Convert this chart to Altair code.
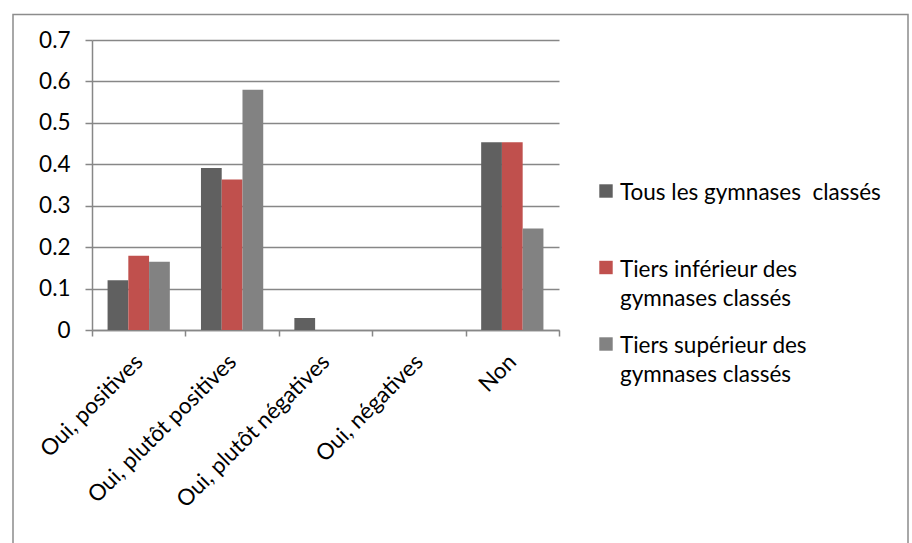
import altair as alt
import pandas as pd

# Survey answers (x categories)
categories = [
    "Oui, positives",
    "Oui, plutôt positives",
    "Oui, plutôt négatives",
    "Oui, négatives",
    "Non",
]

# Series names and shares per answer
series_names = [
    "Tous les gymnases classés",
    "Tiers inférieur des gymnases classés",
    "Tiers supérieur des gymnases classés",
]
legend_lines = [
    "Tous les gymnases\u00a0 classés",
    "Tiers inférieur des\ngymnases classés",
    "Tiers supérieur des\ngymnases classés",
]
tous = [0.120, 0.391, 0.029, 0.0, 0.453]
inferieur = [0.179, 0.363, 0.0, 0.0, 0.453]
superieur = [0.165, 0.580, 0.0, 0.0, 0.245]
colors = ["#606060", "#c0504d", "#828282"]

y_ticks = [0, 0.1, 0.2, 0.3, 0.4, 0.5, 0.6, 0.7]

rows = []
for name, vals in zip(series_names, [tous, inferieur, superieur]):
    for cat, v in zip(categories, vals):
        rows.append({"categorie": cat, "serie": name, "valeur": v})
df = pd.DataFrame(rows)

legend_df = pd.DataFrame(
    {"serie": series_names, "texte": legend_lines, "rang": [0, 1, 2]}
)

FONT = "Lato"
FONT_SIZE = 22.5
GRAY = "#878787"

bars = alt.Chart(df).mark_bar().encode(
    x=alt.X(
        "categorie:N",
        sort=categories,
        title=None,
        scale=alt.Scale(paddingInner=0, paddingOuter=0),
        axis=alt.Axis(
            labelAngle=315,
            labelAlign="right",
            labelBaseline="middle",
            labelPadding=22,
            labelLimit=0,
            tickBand="extent",
            tickSize=6,
            tickColor=GRAY,
            tickWidth=1.5,
            domainColor=GRAY,
            domainWidth=1.5,
            labelFont=FONT,
            labelFontSize=FONT_SIZE,
            labelColor="#000000",
            grid=False,
        ),
    ),
    xOffset=alt.XOffset(
        "serie:N",
        sort=series_names,
        scale=alt.Scale(paddingOuter=0.75, paddingInner=0),
    ),
    y=alt.Y(
        "valeur:Q",
        title=None,
        scale=alt.Scale(domain=[0, 0.7], nice=False),
        axis=alt.Axis(
            values=y_ticks,
            labelExpr="datum.value == 0 ? '0' : format(datum.value, '.1f')",
            tickSize=7,
            tickColor=GRAY,
            tickWidth=1.5,
            domainColor=GRAY,
            domainWidth=1.5,
            gridColor=GRAY,
            gridWidth=1.4,
            labelPadding=15,
            labelFont=FONT,
            labelFontSize=FONT_SIZE,
            labelColor="#000000",
        ),
    ),
    color=alt.Color(
        "serie:N",
        sort=series_names,
        scale=alt.Scale(domain=series_names, range=colors),
        legend=None,
    ),
)

# Outer frame around the whole figure
frame = alt.Chart(pd.DataFrame({"f": [0]})).mark_rect(
    fill=None, stroke="#8c8c8c", strokeWidth=1.5
).encode(
    x=alt.value(-79),
    x2=alt.value(816),
    y=alt.value(-25.5),
    y2=alt.value(506),
)

plot = alt.layer(frame, bars).properties(width=467, height=290)

# Legend drawn as its own small panel
legend_y = alt.Y(
    "rang:Q",
    axis=None,
    scale=alt.Scale(domain=[0, 2], range=[151, 304], nice=False, zero=False),
)
legend_squares = alt.Chart(legend_df).mark_square(size=180, opacity=1).encode(
    x=alt.value(7),
    y=legend_y,
    color=alt.Color(
        "serie:N",
        sort=series_names,
        scale=alt.Scale(domain=series_names, range=colors),
        legend=None,
    ),
)
legend_text = alt.Chart(legend_df).mark_text(
    align="left",
    baseline="top",
    dy=-9,
    lineBreak="\n",
    lineHeight=29,
    font=FONT,
    fontSize=FONT_SIZE,
    color="#000000",
).encode(
    x=alt.value(21),
    y=legend_y,
    text="texte:N",
)
legend_panel = alt.layer(legend_squares, legend_text).properties(
    width=290, height=290
)

chart = (
    alt.hconcat(plot, legend_panel, spacing=40, bounds="flush")
    .properties(
        padding={"left": 12, "top": 13, "right": 3, "bottom": 0},
        background="#ffffff",
    )
    .configure_view(stroke=None)
)

chart.save("out.html", embed_options={"renderer": "svg", "actions": False})
